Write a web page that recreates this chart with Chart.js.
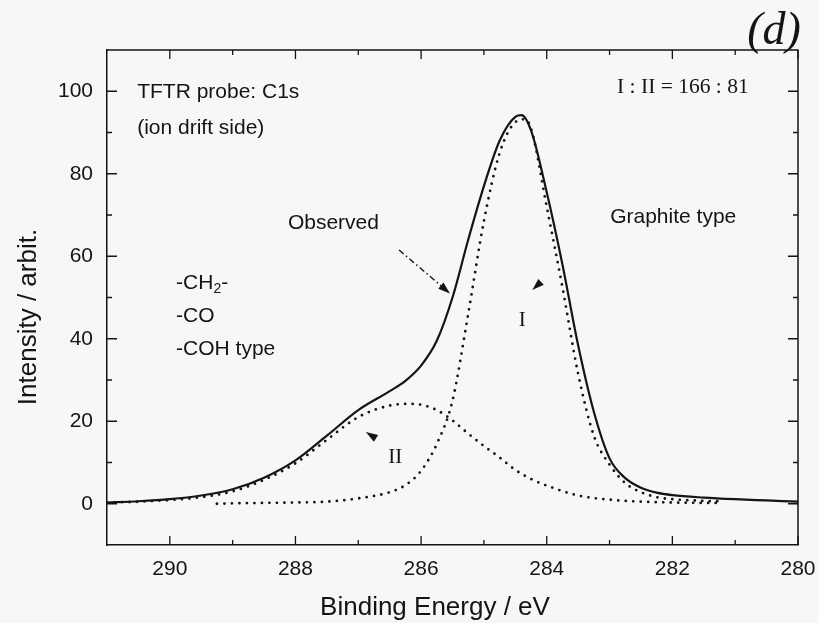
<!DOCTYPE html>
<html>
<head>
<meta charset="utf-8">
<script src="https://cdn.jsdelivr.net/npm/chart.js@4.4.1/dist/chart.umd.min.js"></script>
<style>
  html, body { margin: 0; padding: 0; background: #f7f7f7; }
  canvas { display: block; }
</style>
</head>
<body>
<canvas id="xps" width="819" height="623"></canvas>
<script>
// C1s spectrum, binding energy (eV) vs intensity (arbit.)
const observedEnergy = [291, 290.5, 290, 289.5, 289, 288.5, 288, 287.5, 287, 286.5, 286.25, 286, 285.75, 285.5, 285.25, 285, 284.75, 284.5, 284.4, 284.25, 284, 283.75, 283.5, 283.25, 283, 282.75, 282.5, 282.25, 282, 281.5, 281, 280.5, 280];
const observedIntensity = [0.3, 0.6, 1.1, 2.0, 3.5, 6.3, 10.5, 16.5, 22.7, 27.3, 29.8, 33.5, 39.5, 50, 64, 77, 88, 93.8, 94.2, 90.5, 75.5, 58, 38.4, 22.3, 11, 6.2, 3.9, 2.7, 2.1, 1.5, 1.1, 0.8, 0.5];

// component I (graphite type)
const peak1Energy = [289.25, 289, 288.5, 288, 287.5, 287, 286.5, 286.25, 286, 285.75, 285.5, 285.25, 285, 284.75, 284.5, 284.35, 284.25, 284, 283.75, 283.5, 283.25, 283, 282.75, 282.5, 282.25, 282, 281.5, 281.25];
const peak1Intensity = [0, 0.1, 0.2, 0.3, 0.5, 1.3, 2.8, 4.5, 8, 14.5, 25, 46, 68.5, 85, 92.5, 93.2, 91, 72, 52.5, 31.5, 16.5, 9.5, 5, 2.8, 1.6, 1.1, 0.7, 0.6];

// component II (-CH2- / -CO / -COH type)
const peak2Energy = [291, 290.5, 290, 289.5, 289, 288.5, 288, 287.5, 287, 286.5, 286.2, 286, 285.75, 285.5, 285.25, 285, 284.75, 284.5, 284.25, 284, 283.5, 283, 282.5, 282, 281.5, 281.25];
const peak2Intensity = [0.3, 0.5, 0.9, 1.6, 3.0, 5.8, 9.8, 15.5, 21, 23.8, 24.2, 24, 22.7, 20.2, 17, 14, 11.2, 8.2, 6, 4.4, 2, 1, 0.5, 0.3, 0.2, 0.2];

const xMajorTicks = [290, 288, 286, 284, 282, 280];
const xMinorTicks = [289, 287, 285, 283, 281];
const yMajorTicks = [0, 20, 40, 60, 80, 100];
const yMinorTicks = [10, 30, 50, 70, 90];

const ink = "#141414";
const sans = "'Liberation Sans', Arial, sans-serif";
const serif = "'Liberation Serif', 'Times New Roman', serif";

function toPoints(xs, ys) {
  return xs.map((x, i) => ({ x: x, y: ys[i] }));
}

// labels placed in data coordinates
const notes = [
  { text: "TFTR probe: C1s", x: 290.52, y: 99.8, font: "21px " + sans },
  { text: "(ion drift side)", x: 290.52, y: 91.1, font: "21px " + sans },
  { text: "-CO", x: 289.9, y: 45.5, font: "21px " + sans },
  { text: "-COH type", x: 289.9, y: 37.5, font: "21px " + sans },
  { text: "Observed", x: 288.12, y: 68, font: "21px " + sans },
  { text: "Graphite type", x: 282.99, y: 69.5, font: "21px " + sans },
  { text: "I : II = 166 : 81", x: 282.88, y: 101, font: "21.5px " + serif },
  { text: "I", x: 284.39, y: 44.5, font: "21px " + serif, align: "center" },
  { text: "II", x: 286.41, y: 11.3, font: "21px " + serif, align: "center" },
];

const arrows = [
  { from: [286.35, 61.5], to: [285.54, 51], dashed: true },
  { from: [284.04, 54.5], to: [284.23, 51.8] },
  { from: [286.70, 15.7], to: [286.88, 17.4] },
];

function arrowHead(ctx, x0, y0, x1, y1) {
  const a = Math.atan2(y1 - y0, x1 - x0);
  const len = 12, w = 4;
  ctx.beginPath();
  ctx.moveTo(x1, y1);
  ctx.lineTo(x1 - len * Math.cos(a) + w * Math.sin(a), y1 - len * Math.sin(a) - w * Math.cos(a));
  ctx.lineTo(x1 - len * Math.cos(a) - w * Math.sin(a), y1 - len * Math.sin(a) + w * Math.cos(a));
  ctx.closePath();
  ctx.fill();
}

const decorations = {
  id: "decorations",
  afterDraw(chart) {
    const ctx = chart.ctx;
    const xs = chart.scales.x, ys = chart.scales.y;
    const area = chart.chartArea;
    const px = (v) => xs.getPixelForValue(v);
    const py = (v) => ys.getPixelForValue(v);

    ctx.save();
    ctx.strokeStyle = ink;
    ctx.fillStyle = ink;

    // top and right edges of the frame
    ctx.lineWidth = 1.5;
    ctx.beginPath();
    ctx.moveTo(area.left, area.top);
    ctx.lineTo(area.right, area.top);
    ctx.lineTo(area.right, area.bottom);
    ctx.stroke();

    // inward tick marks on all four sides
    ctx.lineWidth = 1.3;
    ctx.beginPath();
    xMajorTicks.concat(xMinorTicks).forEach((v) => {
      const len = xMajorTicks.includes(v) ? 9 : 5;
      const x = px(v);
      ctx.moveTo(x, area.bottom);
      ctx.lineTo(x, area.bottom - len);
      ctx.moveTo(x, area.top);
      ctx.lineTo(x, area.top + len);
    });
    yMajorTicks.concat(yMinorTicks).forEach((v) => {
      const len = yMajorTicks.includes(v) ? 10 : 5;
      const y = py(v);
      ctx.moveTo(area.left, y);
      ctx.lineTo(area.left + len, y);
      ctx.moveTo(area.right, y);
      ctx.lineTo(area.right - len, y);
    });
    ctx.stroke();

    // text notes
    ctx.textBaseline = "middle";
    notes.forEach((n) => {
      ctx.font = n.font;
      ctx.textAlign = n.align || "left";
      ctx.fillText(n.text, px(n.x), py(n.y));
    });

    // -CH2- with subscript
    ctx.textAlign = "left";
    ctx.font = "21px " + sans;
    let cx = px(289.9);
    const cy = py(53.5);
    ctx.fillText("-CH", cx, cy);
    cx += ctx.measureText("-CH").width;
    ctx.font = "14px " + sans;
    ctx.fillText("2", cx, cy + 6);
    cx += ctx.measureText("2").width;
    ctx.font = "21px " + sans;
    ctx.fillText("-", cx, cy);

    // arrows
    arrows.forEach((a) => {
      const x0 = px(a.from[0]), y0 = py(a.from[1]);
      const x1 = px(a.to[0]), y1 = py(a.to[1]);
      if (a.dashed) {
        ctx.lineWidth = 1.4;
        ctx.setLineDash([6, 3, 1.5, 3]);
        ctx.beginPath();
        ctx.moveTo(x0, y0);
        ctx.lineTo(x1, y1);
        ctx.stroke();
        ctx.setLineDash([]);
      }
      arrowHead(ctx, x0, y0, x1, y1);
    });

    // axis titles
    ctx.font = "26px " + sans;
    ctx.textAlign = "center";
    ctx.textBaseline = "alphabetic";
    ctx.fillText("Binding Energy / eV", 435, 615);
    ctx.save();
    ctx.translate(36, 317);
    ctx.rotate(-Math.PI / 2);
    ctx.fillText("Intensity / arbit.", 0, 0);
    ctx.restore();

    // panel mark
    ctx.font = "italic 46px " + serif;
    ctx.textAlign = "center";
    ctx.textBaseline = "middle";
    ctx.fillText("(d)", 774, 32);

    ctx.restore();
  },
};

const lineStyle = {
  borderColor: ink,
  pointRadius: 0,
  fill: false,
  cubicInterpolationMode: "monotone",
};

new Chart(document.getElementById("xps").getContext("2d"), {
  type: "line",
  data: {
    datasets: [
      Object.assign({ label: "Observed", data: toPoints(observedEnergy, observedIntensity), borderWidth: 2.2 }, lineStyle),
      Object.assign({ label: "I", data: toPoints(peak1Energy, peak1Intensity), borderWidth: 2.8, borderDash: [0, 7.5], borderCapStyle: "round" }, lineStyle),
      Object.assign({ label: "II", data: toPoints(peak2Energy, peak2Intensity), borderWidth: 2.8, borderDash: [0, 7.5], borderCapStyle: "round" }, lineStyle),
    ],
  },
  options: {
    responsive: false,
    animation: false,
    layout: { padding: { top: 50, right: 21, left: 0, bottom: 0 } },
    plugins: {
      legend: { display: false },
      tooltip: { enabled: false },
    },
    scales: {
      x: {
        type: "linear",
        reverse: true,
        min: 280,
        max: 291,
        afterBuildTicks: (scale) => {
          scale.ticks = xMajorTicks.map((v) => ({ value: v }));
        },
        afterFit: (scale) => {
          scale.height = 78;
          scale.paddingLeft = 0;
          scale.paddingRight = 0;
        },
        grid: { display: false, drawTicks: false },
        border: { display: true, color: ink, width: 1.5 },
        ticks: { color: ink, font: { family: sans, size: 21 }, padding: 12, maxRotation: 0 },
      },
      y: {
        min: -10,
        max: 110,
        afterBuildTicks: (scale) => {
          scale.ticks = yMajorTicks.map((v) => ({ value: v }));
        },
        afterFit: (scale) => {
          scale.width = 107;
          scale.paddingTop = 0;
          scale.paddingBottom = 0;
        },
        grid: { display: false, drawTicks: false },
        border: { display: true, color: ink, width: 1.5 },
        ticks: { color: ink, font: { family: sans, size: 21 }, padding: 14 },
      },
    },
  },
  plugins: [decorations],
});
</script>
</body>
</html>
